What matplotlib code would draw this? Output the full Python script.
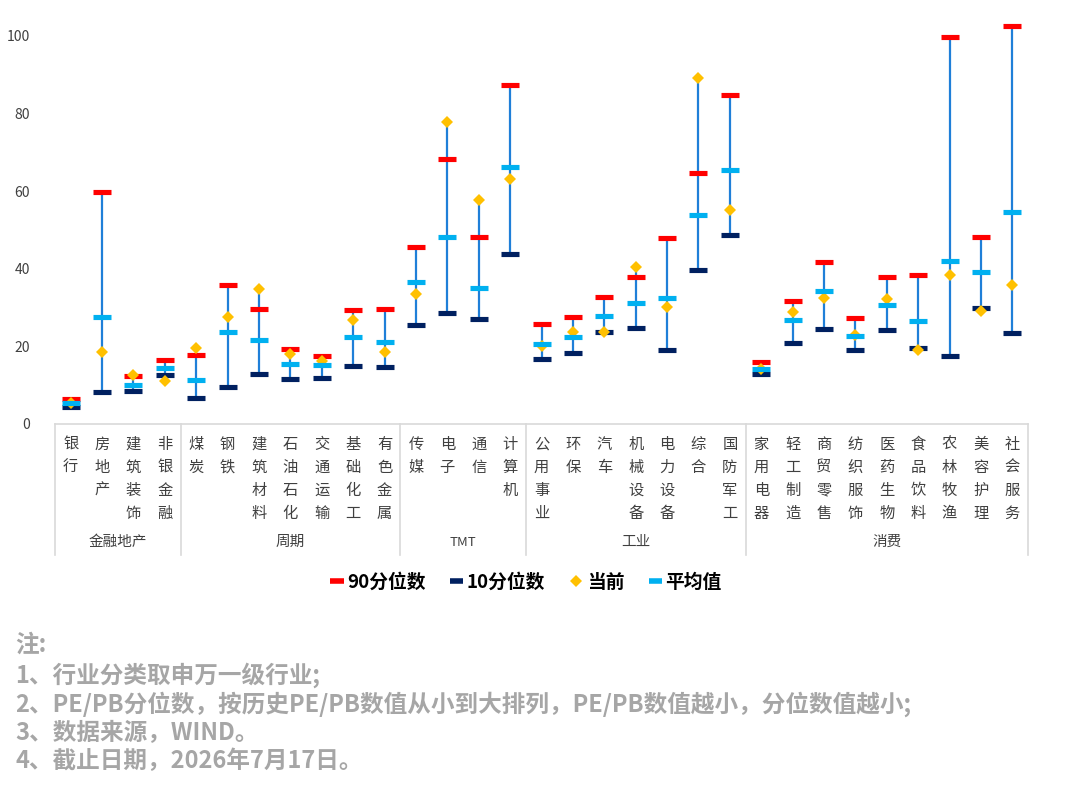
import matplotlib
matplotlib.use("Agg")
import matplotlib.pyplot as plt
from matplotlib.lines import Line2D
import matplotlib.transforms as mtransforms

plt.rcParams['font.family'] = ['Noto Sans CJK SC', 'DejaVu Sans']

industries = ["银行", "房地产", "建筑装饰", "非银金融",
              "煤炭", "钢铁", "建筑材料", "石油石化", "交通运输", "基础化工", "有色金属",
              "传媒", "电子", "通信", "计算机",
              "公用事业", "环保", "汽车", "机械设备", "电力设备", "综合", "国防军工",
              "家用电器", "轻工制造", "商贸零售", "纺织服饰", "医药生物", "食品饮料", "农林牧渔", "美容护理", "社会服务"]
groups = ["金融地产", "周期", "TMT", "工业", "消费"]
group_sizes = [4, 7, 4, 7, 9]

p90 = [6.5, 59.8, 12.4, 16.5, 17.9, 35.7, 29.7, 19.4, 17.6, 29.3, 29.7,
       45.7, 68.2, 48.1, 87.4,
       25.8, 27.6, 32.8, 38.0, 47.9, 64.7, 84.8,
       15.9, 31.8, 41.8, 27.4, 38.0, 38.4, 99.8, 48.1, 102.7]
p10 = [4.5, 8.2, 8.4, 12.5, 6.6, 9.5, 12.8, 11.7, 11.9, 14.9, 14.6,
       25.6, 28.7, 27.1, 43.7,
       16.8, 18.3, 23.8, 24.7, 19.2, 39.7, 48.8,
       12.9, 20.8, 24.5, 19.0, 24.1, 19.7, 17.4, 29.8, 23.4]
current = [5.4, 18.6, 12.6, 11.0, 19.6, 27.6, 34.8, 18.0, 16.3, 26.8, 18.5,
           33.5, 77.9, 57.7, 63.1,
           20.1, 23.8, 23.8, 40.5, 30.1, 89.2, 55.2,
           14.3, 28.9, 32.4, 22.9, 32.3, 19.1, 38.3, 29.1, 35.7]
mean = [5.5, 27.6, 10.1, 14.5, 11.3, 23.6, 21.6, 15.5, 15.2, 22.5, 21.1,
        36.6, 48.3, 35.1, 66.2,
        20.5, 22.3, 27.8, 31.1, 32.4, 53.9, 65.4,
        14.3, 26.7, 34.2, 22.7, 30.7, 26.5, 41.9, 39.1, 54.7]
yticks = [0, 20, 40, 60, 80, 100]
legend_labels = ["90分位数", "10分位数", "当前", "平均值"]
notes = ["注:",
         "1、行业分类取申万一级行业;",
         "2、PE/PB分位数，按历史PE/PB数值从小到大排列，PE/PB数值越小，分位数值越小;",
         "3、数据来源，WIND。",
         "4、截止日期，2026年7月17日。"]

C_RED = "#ff0000"
C_NAVY = "#002060"
C_GOLD = "#ffc000"
C_CYAN = "#00b0f0"
C_LINE = "#1f7fd8"

W, H = 1080, 788
fig = plt.figure(figsize=(W / 100, H / 100), dpi=100)
y0_px = 424.0
px_per_unit = 3.88
ymax = 106
top_px = y0_px - ymax * px_per_unit
ax = fig.add_axes([55 / W, 1 - y0_px / H, (1028 - 55) / W, (y0_px - top_px) / H])

n = len(industries)
x = list(range(n))
lows = [min(a, b, c, d) for a, b, c, d in zip(p90, p10, current, mean)]
highs = [max(a, b, c, d) for a, b, c, d in zip(p90, p10, current, mean)]
ax.vlines(x, lows, highs, color=C_LINE, lw=1.6, zorder=1)

dash_ms = 13
dash_mew = 3.7
ax.plot(x, p90, ls="none", marker="_", ms=dash_ms, mew=dash_mew, color=C_RED, zorder=2, clip_on=False)
ax.plot(x, p10, ls="none", marker="_", ms=dash_ms, mew=dash_mew, color=C_NAVY, zorder=3, clip_on=False)
ax.plot(x, current, ls="none", marker="D", ms=6.6, mew=0, color=C_GOLD, zorder=4, clip_on=False)
ax.plot(x, mean, ls="none", marker="_", ms=dash_ms, mew=dash_mew, color=C_CYAN, zorder=5, clip_on=False)

ax.set_xlim(-0.5, n - 0.5)
ax.set_ylim(0, ymax)
ax.set_yticks(yticks)
ax.set_yticklabels([str(v) for v in yticks], fontsize=10, color="#404040")
ax.tick_params(axis="y", length=0, pad=18)
ax.set_xticks([])
for s in ["left", "right", "top"]:
    ax.spines[s].set_visible(False)
ax.spines["bottom"].set_color("#d9d9d9")
ax.spines["bottom"].set_linewidth(1.2)

# category labels (vertical stacked characters)
trans = mtransforms.blended_transform_factory(ax.transData, fig.transFigure)
for i, name in enumerate(industries):
    ax.text(i, 1 - 436 / H, "\n".join(name), transform=trans, ha="center", va="top",
            fontsize=11, color="#404040", linespacing=1.45)

# group separators and labels
bounds = [-0.5]
for s in group_sizes:
    bounds.append(bounds[-1] + s)
for b in bounds:
    ax.plot([b, b], [1 - y0_px / H, 1 - 555 / H], transform=trans, color="#d9d9d9", lw=1.2, clip_on=False)
for g, a, b in zip(groups, bounds[:-1], bounds[1:]):
    ax.text((a + b) / 2, 1 - 542 / H, g, transform=trans, ha="center", va="center",
            fontsize=10.5 if g != "TMT" else 9.5, color="#404040")

# legend
handles = [Line2D([], [], color=C_RED, lw=4, solid_capstyle="butt"),
           Line2D([], [], color=C_NAVY, lw=4, solid_capstyle="butt"),
           Line2D([], [], ls="none", marker="D", ms=6.5, color=C_GOLD, mew=0),
           Line2D([], [], color=C_CYAN, lw=4, solid_capstyle="butt")]
fig.legend(handles, legend_labels, loc="center", bbox_to_anchor=(526 / W, 1 - 582 / H), ncol=4,
           frameon=False, handlelength=0.7, handletextpad=0.2, columnspacing=1.3,
           prop={"size": 13.5, "weight": "bold"})

# notes
note_y = [645, 675, 704, 733, 761]
for t, yy in zip(notes, note_y):
    fig.text(15 / W, 1 - yy / H, t, ha="left", va="center", fontsize=17,
             color="#a6a6a6", fontweight="bold")

fig.savefig("out.png", dpi=100, facecolor="white")
